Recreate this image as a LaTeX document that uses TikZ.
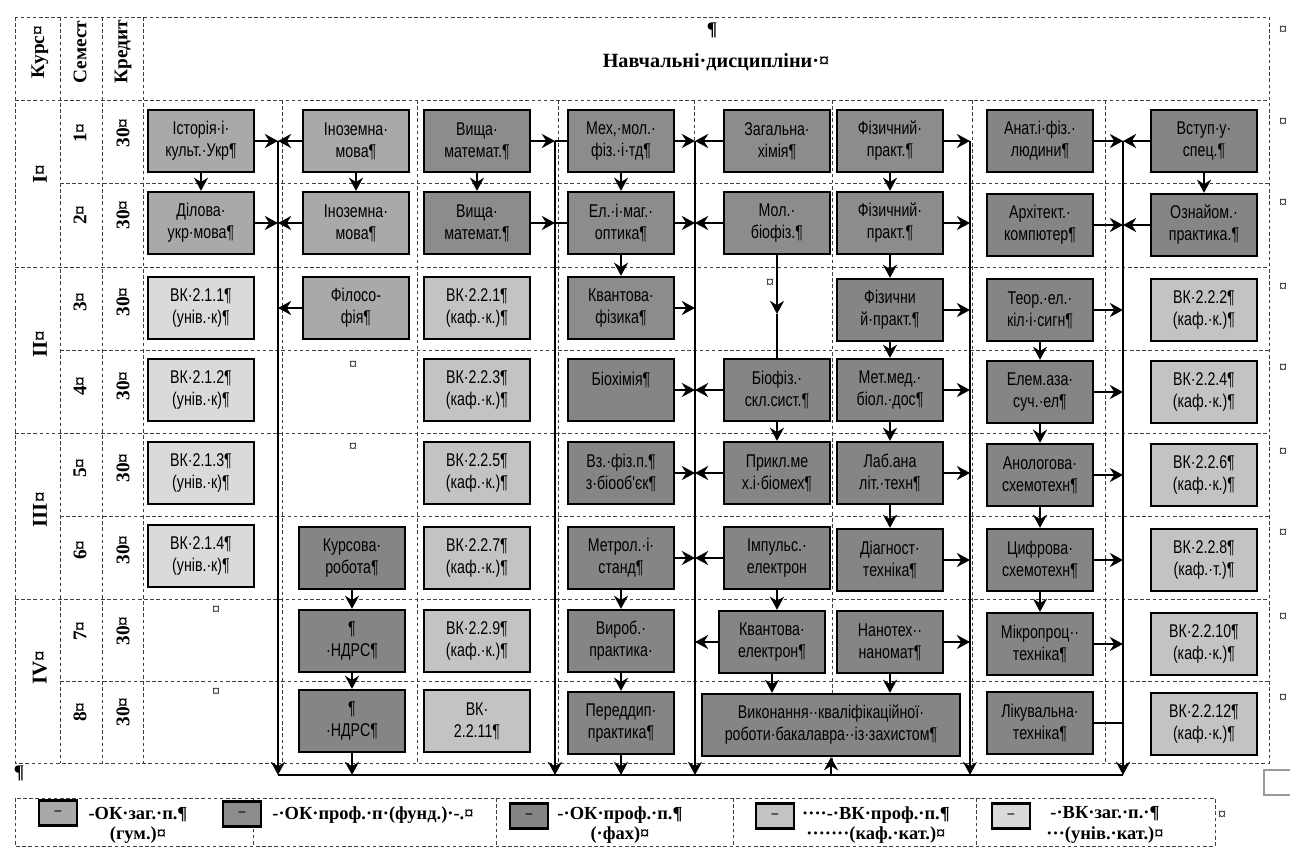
\documentclass[tikz,border=0pt]{standalone}
\usepackage{fontspec}
\setmainfont{Liberation Serif}
\newfontfamily\boxfont[FakeStretch=0.77]{Liberation Sans}
\usetikzlibrary{positioning,arrows.meta}
\definecolor{okgum}{HTML}{A9A9A9}
\definecolor{okfund}{HTML}{8C8C8C}
\definecolor{okfah}{HTML}{858585}
\definecolor{vkprof}{HTML}{C3C3C3}
\definecolor{vkzag}{HTML}{DADADA}

\begin{document}
\begin{tikzpicture}[x=0.02cm, y=-0.02cm,
  box/.style={draw, line width=1.3pt, minimum width=2.12cm, minimum height=1.24cm, inner sep=1pt, align=center, font=\boxfont\fontsize{10.5}{12.5}\selectfont},
  gum/.style={box, fill=okgum},
  fund/.style={box, fill=okfund},
  fah/.style={box, fill=okfah},
  vkp/.style={box, fill=vkprof},
  vkz/.style={box, fill=vkzag},
  swatch/.style={draw, line width=1.3pt, minimum width=0.76cm, minimum height=0.5cm, inner sep=0pt, font=\boxfont\small},
  lgtxt/.style={align=center, font=\bfseries\fontsize{10.5}{11.5}\selectfont},
  arr/.style={-{Stealth[length=7.5pt,width=8pt,inset=2.5pt]}, line width=1.3pt},
  bus/.style={line width=1.3pt},
  tabline/.style={black!75, line width=0.5pt, dash pattern=on 2pt off 1.5pt},
  head/.style={rotate=90, font=\bfseries\fontsize{11}{13}\selectfont},
  cellmark/.style={font=\fontsize{9}{10}\selectfont, inner sep=0pt}]
\useasboundingbox (0,0) rectangle (1290,855);
\draw[tabline] (15,17) rectangle (1269,763);
\foreach \y in {100,267,433,599} \draw[tabline] (15,\y) -- (1269,\y);
\foreach \y in {183,350,516,681} \draw[tabline] (60,\y) -- (1269,\y);
\foreach \x in {60,102,143} \draw[tabline] (\x,17) -- (\x,763);
\foreach \x in {282,417,558,694,832,972,1105} \draw[tabline] (\x,100) -- (\x,763);

\node[font=\bfseries\fontsize{11.5}{13}\selectfont] (title) at (716,62) {Навчальні·дисципліни·¤};
\node[font=\bfseries\fontsize{11}{13}\selectfont] (titlepil) at (712,30) {¶};
\node[head] (hkurs) at (40,52) {Курс¤};
\node[head] (hsem) at (80,52) {Семест};
\node[head] (hkred) at (123,52) {Кредит};
\foreach \n/\y in {1/133,2/215,3/302,4/386,5/468,6/550,7/631,8/712} {
  \node[head] (hs\n) at (80,\y) {\n{}¤};
  \node[head] (hc\n) at (123,\y) {30¤};
}
\foreach \crs/\y in {I/174,II/344,III/510,IV/668} \node[head, font=\bfseries\fontsize{12}{14}\selectfont] (hk\crs) at (40,\y) {\crs{}¤};
\foreach \y in {30,122,203,287,368,452,533,617,698} \node[cellmark] (rm\y) at (1283,\y) {¤};
\foreach \x/\y in {770/283,353/365,353/447,216/610,216/692} \node[cellmark] (cm\x\y) at (\x,\y) {¤};
\node[font=\bfseries\fontsize{11}{13}\selectfont] (pilb) at (19,773) {¶};
\draw[black!40, line width=0.6pt] (1290,770) -- (1264,770) -- (1264,795) -- (1290,795);

\node[gum] (ist) at (201,141) {Історія·і·\\культ.·Укр¶};
\node[gum] (inoz1) at (356,141) {Іноземна·\\мова¶};
\node[fund] (vysh1) at (477,141) {Вища·\\математ.¶};
\node[fund] (mekh) at (621,141) {Мех,·мол.·\\фіз.·і·тд¶};
\node[fund] (zakh) at (777,141) {Загальна·\\хімія¶};
\node[fund] (fiz1) at (890,141) {Фізичний·\\практ.¶};
\node[fah] (anat) at (1040,141) {Анат.і·фіз.·\\людини¶};
\node[fah] (vstup) at (1204,141) {Вступ·у·\\спец.¶};

\node[gum] (dil) at (201,223) {Ділова·\\укр·мова¶};
\node[gum] (inoz2) at (356,223) {Іноземна·\\мова¶};
\node[fund] (vysh2) at (477,223) {Вища·\\математ.¶};
\node[fund] (el) at (621,223) {Ел.·і·маг.·\\оптика¶};
\node[fund] (mol) at (777,223) {Мол.·\\біофіз.¶};
\node[fund] (fiz2) at (890,223) {Фізичний·\\практ.¶};
\node[fah] (arkh) at (1040,225) {Архітект.·\\компютер¶};
\node[fah] (oznai) at (1204,225) {Ознайом.·\\практика.¶};

\node[vkz] (vk211) at (201,308) {ВК·2.1.1¶\\(унів.·к)¶};
\node[gum] (filos) at (356,308) {Філосо-\\фія¶};
\node[vkp] (vk221) at (477,308) {ВК·2.2.1¶\\(каф.·к.)¶};
\node[fund] (kvfiz) at (621,308) {Квантова·\\фізика¶};
\node[fah] (fiz3) at (890,310) {Фізични\\й·практ.¶};
\node[fah] (teor) at (1040,310) {Теор.·ел.·\\кіл·і·сигн¶};
\node[vkp] (vk222) at (1204,310) {ВК·2.2.2¶\\(каф.·к.)¶};

\node[vkz] (vk212) at (201,390) {ВК·2.1.2¶\\(унів.·к)¶};
\node[vkp] (vk223) at (477,390) {ВК·2.2.3¶\\(каф.·к.)¶};
\node[fah] (biokh) at (621,390) {Біохімія¶\\\mbox{}};
\node[fah] (biofiz) at (777,390) {Біофіз.·\\скл.сист.¶};
\node[fah] (metmed) at (890,390) {Мет.мед.·\\біол.·дос¶};
\node[fah] (elem) at (1040,392) {Елем.аза·\\суч.·ел¶};
\node[vkp] (vk224) at (1204,392) {ВК·2.2.4¶\\(каф.·к.)¶};

\node[vkz] (vk213) at (201,473) {ВК·2.1.3¶\\(унів.·к)¶};
\node[vkp] (vk225) at (477,473) {ВК·2.2.5¶\\(каф.·к.)¶};
\node[fah] (vzfiz) at (621,473) {Вз.·фіз.п.¶\\з·біооб'єк¶};
\node[fah] (prykl) at (777,473) {Прикл.ме\\х.і·біомех¶};
\node[fah] (lab) at (890,473) {Лаб.ана\\літ.·техн¶};
\node[fah] (anol) at (1040,475) {Анологова·\\схемотехн¶};
\node[vkp] (vk226) at (1204,475) {ВК·2.2.6¶\\(каф.·к.)¶};

\node[vkz] (vk214) at (201,556) {ВК·2.1.4¶\\(унів.·к)¶};
\node[fah] (kursova) at (352,558) {Курсова·\\робота¶};
\node[vkp] (vk227) at (477,558) {ВК·2.2.7¶\\(каф.·к.)¶};
\node[fah] (metrol) at (621,558) {Метрол.·і·\\станд¶};
\node[fah] (impuls) at (777,558) {Імпульс.·\\електрон};
\node[fah] (diag) at (890,560) {Діагност·\\техніка¶};
\node[fah] (tsyfr) at (1040,560) {Цифрова·\\схемотехн¶};
\node[vkp] (vk228) at (1204,560) {ВК·2.2.8¶\\(каф.·т.)¶};

\node[fah] (ndrs1) at (352,641) {¶\\·НДРС¶};
\node[vkp] (vk229) at (477,641) {ВК·2.2.9¶\\(каф.·к.)¶};
\node[fah] (vyrob) at (621,641) {Вироб.·\\практика·};
\node[fah] (kvel) at (772,642) {Квантова·\\електрон¶};
\node[fah] (nano) at (890,642) {Нанотех··\\наномат¶};
\node[fah] (mikro) at (1040,644) {Мікропроц··\\техніка¶};
\node[vkp] (vk2210) at (1204,644) {ВК·2.2.10¶\\(каф.·к.)¶};

\node[fah] (ndrs2) at (352,721) {¶\\·НДРС¶};
\node[vkp] (vk2211) at (477,721) {ВК·\\2.2.11¶};
\node[fah] (pered) at (621,723) {Переддип·\\практика¶};
\node[fah, minimum width=5.16cm] (vykon) at (831,725) {Виконання··кваліфікаційної·\\роботи·бакалавра··із·захистом¶};
\node[fah] (likuv) at (1040,723) {Лікувальна·\\техніка¶};
\node[vkp] (vk2212) at (1204,724) {ВК·2.2.12¶\\(каф.·к.)¶};

\coordinate (busA) at (278,141);
\coordinate (busB) at (555,141);
\coordinate (busC) at (695,141);
\coordinate (busD) at (970,141);
\coordinate (busE) at (1123,141);
\coordinate (botA) at (278,775);
\coordinate (botE) at (1123,775);
\coordinate (molmid) at (777,314);
\draw[arr] (busA) -- (busA |- botA); \draw[arr] (busB) -- (busB |- botA); \draw[arr] (busC) -- (busC |- botA);
\draw[arr] (busD) -- (busD |- botA); \draw[arr] (busE) -- (busE |- botA); \draw[bus] (botA) -- (botE);

\draw[arr] (ist) -- (ist -| busA); \draw[arr] (inoz1) -- (inoz1 -| busA); \draw[arr] (dil) -- (dil -| busA);
\draw[arr] (inoz2) -- (inoz2 -| busA); \draw[arr] (filos) -- (filos -| busA);
\draw[arr] (vysh1) -- (vysh1 -| busB); \draw[bus] (mekh -| busB) -- (mekh);
\draw[arr] (vysh2) -- (vysh2 -| busB); \draw[bus] (el -| busB) -- (el);
\draw[arr] (mekh) -- (mekh -| busC); \draw[arr] (zakh) -- (zakh -| busC); \draw[arr] (el) -- (el -| busC);
\draw[arr] (mol) -- (mol -| busC); \draw[arr] (kvfiz) -- (kvfiz -| busC); \draw[arr] (biokh) -- (biokh -| busC);
\draw[arr] (biofiz) -- (biofiz -| busC); \draw[arr] (vzfiz) -- (vzfiz -| busC); \draw[arr] (prykl) -- (prykl -| busC);
\draw[arr] (metrol) -- (metrol -| busC); \draw[arr] (impuls) -- (impuls -| busC); \draw[arr] (kvel) -- (kvel -| busC);
\draw[arr] (fiz1) -- (fiz1 -| busD); \draw[arr] (fiz2) -- (fiz2 -| busD); \draw[arr] (fiz3) -- (fiz3 -| busD);
\draw[arr] (metmed) -- (metmed -| busD); \draw[arr] (lab) -- (lab -| busD); \draw[arr] (diag) -- (diag -| busD);
\draw[arr] (nano) -- (nano -| busD);
\draw[arr] (anat) -- (anat -| busE); \draw[arr] (vstup) -- (vstup -| busE); \draw[arr] (arkh) -- (arkh -| busE);
\draw[arr] (oznai) -- (oznai -| busE); \draw[arr] (teor) -- (teor -| busE); \draw[arr] (elem) -- (elem -| busE);
\draw[arr] (anol) -- (anol -| busE); \draw[arr] (tsyfr) -- (tsyfr -| busE); \draw[arr] (mikro) -- (mikro -| busE);
\draw[bus] (likuv) -- (likuv -| busE);

\draw[arr] (ist) -- (dil); \draw[arr] (inoz1) -- (inoz2); \draw[arr] (vysh1) -- (vysh2);
\draw[arr] (mekh) -- (el); \draw[arr] (el) -- (kvfiz);
\draw[arr] (mol) -- (molmid); \draw[bus] (molmid) -- (biofiz); \draw[arr] (biofiz) -- (biofiz |- prykl.north);
\draw[arr] (impuls) -- (impuls |- kvel.north); \draw[arr] (kvel) -- (kvel |- vykon.north); \draw[arr] (nano) -- (nano |- vykon.north);
\draw[arr] (fiz1) -- (fiz2); \draw[arr] (fiz2) -- (fiz3); \draw[arr] (fiz3) -- (metmed); \draw[arr] (metmed) -- (lab); \draw[arr] (lab) -- (diag);
\draw[arr] (teor) -- (elem); \draw[arr] (elem) -- (anol); \draw[arr] (anol) -- (tsyfr); \draw[arr] (tsyfr) -- (mikro);
\draw[arr] (vstup) -- (oznai);
\draw[arr] (kursova) -- (ndrs1); \draw[arr] (ndrs1) -- (ndrs2); \draw[arr] (ndrs2) -- (ndrs2 |- botA);
\draw[arr] (metrol) -- (vyrob); \draw[arr] (vyrob) -- (pered); \draw[arr] (pered) -- (pered |- botA);
\draw[arr] (vykon |- botA) -- (vykon);

\draw[tabline] (15,798) rectangle (1215,846);
\foreach \x in {253,496,733,976} \draw[tabline] (\x,798) -- (\x,846);
\node[swatch, fill=okgum] (sw1) at (58,813) {–};
\node[swatch, fill=okfund] (sw2) at (242,814) {–};
\node[swatch, fill=okfah] (sw3) at (529,816) {–};
\node[swatch, fill=vkprof] (sw4) at (775,816) {–};
\node[swatch, fill=vkzag] (sw5) at (1011,816) {–};
\node[lgtxt] (lt1) at (138,825) {-ОК·заг.·п.¶\\(гум.)¤};
\node[lgtxt] (lt2) at (373,815) {-·ОК·проф.·п·(фунд.)·-.¤};
\node[lgtxt] (lt3) at (620,825) {-·ОК·проф.·п.¶\\(·фах)¤};
\node[lgtxt] (lt4) at (876,825) {····-·ВК·проф.·п.¶\\·······(каф.·кат.)¤};
\node[lgtxt] (lt5) at (1105,825) {-·ВК·заг.·п.·¶\\···(унів.·кат.)¤};
\node[cellmark] (lgm) at (1222,815) {¤};
\end{tikzpicture}
\end{document}
